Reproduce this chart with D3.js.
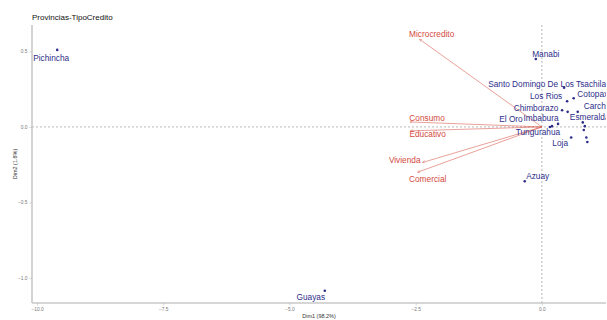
<!DOCTYPE html>
<html>
<head>
<meta charset="utf-8">
<script src="https://cdn.jsdelivr.net/npm/d3@7"></script>
<style>
  html, body { margin: 0; padding: 0; background: #fff; }
  svg { display: block; font-family: "Liberation Sans", Arial, Helvetica, sans-serif; }
</style>
</head>
<body>
<svg id="chart" width="607" height="320"></svg>
<script>
// Correspondence analysis biplot: provinces (rows) vs credit type (columns)
const rowNames = ["Pichincha", "Guayas", "Manabi", "Santo Domingo De Los Tsachila", "Los Rios",
  "Cotopaxi", "Chimborazo", "Carchi", "Esmeraldas", "El Oro", "Imbabura", "Tungurahua",
  "Loja", "Azuay", "Bolivar", "Canar", "Napo", "Pastaza", "Zamora Chinchipe"];
const rowDim1 = [-9.60, -4.30, -0.12, 0.44, 0.50, 0.63, 0.40, 0.71, 0.81, 0.20, 0.32, 0.16,
  0.58, -0.34, 0.51, 0.85, 0.83, 0.88, 0.90];
const rowDim2 = [0.51, -1.085, 0.45, 0.26, 0.17, 0.19, 0.11, 0.10, 0.03, 0.005, 0.02, 0.0,
  -0.07, -0.36, 0.10, 0.005, -0.02, -0.07, -0.10];
const rowLabelled = [true, true, true, true, true, true, true, true, true, true, true, true,
  true, true, false, false, false, false, false];

const colNames = ["Microcredito", "Consumo", "Educativo", "Vivienda", "Comercial"];
const colDim1 = [-2.42, -2.61, -2.60, -2.36, -2.46];
const colDim2 = [0.58, 0.033, -0.026, -0.235, -0.30];

const xTicks = [-10.0, -7.5, -5.0, -2.5, 0.0];
const yTicks = [-1.0, -0.5, 0.0, 0.5];

// Label nudges (px) from each mark, as placed by the repel layout
const rowNudge = {
  "Pichincha": [-6, 8], "Guayas": [-14, 6], "Manabi": [10, -5],
  "Santo Domingo De Los Tsachila": [-17, -4], "Los Rios": [-21, -5], "Cotopaxi": [20, -4],
  "Chimborazo": [-26, -2], "Carchi": [18, -6], "Esmeraldas": [9, -5], "El Oro": [-41, -7],
  "Imbabura": [-17, -6], "Tungurahua": [-12, 5], "Loja": [-11, 6], "Azuay": [13, -5]
};
const colNudge = {
  "Microcredito": [12, -5], "Consumo": [17, -4], "Educativo": [17, 3],
  "Vivienda": [-18, -2], "Comercial": [10, 7]
};

const rowColor = "#2e2e8a";
const colColor = "#d44a3e";
const labelSize = 8.3;

const svg = d3.select("#chart");
const panel = { left: 32, right: 606, top: 25, bottom: 303 };

const x = d3.scaleLinear().domain([-10.1, 1.27]).range([panel.left, panel.right]);
const y = d3.scaleLinear().domain([-1.166, 0.675]).range([panel.bottom, panel.top]);

svg.append("defs").append("clipPath").attr("id", "panelClip")
  .append("rect")
  .attr("x", panel.left).attr("y", panel.top)
  .attr("width", panel.right - panel.left).attr("height", panel.bottom - panel.top);

svg.select("defs").append("marker")
  .attr("id", "arrowHead").attr("viewBox", "0 0 10 10")
  .attr("refX", 9).attr("refY", 5)
  .attr("markerWidth", 4).attr("markerHeight", 4)
  .attr("orient", "auto-start-reverse")
  .append("path").attr("d", "M0,0 L10,5 L0,10").attr("fill", "none")
  .attr("stroke", colColor).attr("stroke-width", 1.2);

// Title
svg.append("text")
  .attr("x", panel.left).attr("y", 20)
  .attr("font-size", 8).attr("fill", "#111")
  .text("Provincias-TipoCredito");

const plot = svg.append("g").attr("clip-path", "url(#panelClip)");

// Reference lines through the origin
plot.append("line")
  .attr("x1", panel.left).attr("x2", panel.right)
  .attr("y1", y(0)).attr("y2", y(0))
  .attr("stroke", "#999").attr("stroke-width", 0.7).attr("stroke-dasharray", "2,2");
plot.append("line")
  .attr("x1", x(0)).attr("x2", x(0))
  .attr("y1", panel.top).attr("y2", panel.bottom)
  .attr("stroke", "#999").attr("stroke-width", 0.7).attr("stroke-dasharray", "2,2");

// Column arrows
const cols = colNames.map((n, i) => ({ name: n, d1: colDim1[i], d2: colDim2[i] }));
plot.selectAll("line.arrow").data(cols).enter().append("line")
  .attr("class", "arrow")
  .attr("x1", x(0)).attr("y1", y(0))
  .attr("x2", d => x(d.d1)).attr("y2", d => y(d.d2))
  .attr("stroke", colColor).attr("stroke-width", 0.7).attr("stroke-opacity", 0.75)
  .attr("marker-end", "url(#arrowHead)");

plot.selectAll("text.col").data(cols).enter().append("text")
  .attr("class", "col")
  .attr("x", d => x(d.d1) + colNudge[d.name][0])
  .attr("y", d => y(d.d2) + colNudge[d.name][1])
  .attr("text-anchor", "middle").attr("dominant-baseline", "central")
  .attr("font-size", labelSize).attr("fill", colColor)
  .text(d => d.name);

// Row points and labels
const rows = rowNames.map((n, i) => ({ name: n, d1: rowDim1[i], d2: rowDim2[i], lab: rowLabelled[i] }));
plot.selectAll("circle.row").data(rows).enter().append("circle")
  .attr("class", "row")
  .attr("cx", d => x(d.d1)).attr("cy", d => y(d.d2))
  .attr("r", 1.3).attr("fill", rowColor);

plot.selectAll("text.row").data(rows.filter(d => d.lab)).enter().append("text")
  .attr("class", "row")
  .attr("x", d => x(d.d1) + rowNudge[d.name][0])
  .attr("y", d => y(d.d2) + rowNudge[d.name][1])
  .attr("text-anchor", "middle").attr("dominant-baseline", "central")
  .attr("font-size", labelSize).attr("fill", rowColor)
  .text(d => d.name);

// Axes
const xAxis = svg.append("g")
  .attr("transform", `translate(0,${panel.bottom})`)
  .call(d3.axisBottom(x).tickValues(xTicks).tickFormat(d3.format(".1f")).tickSize(2.5).tickPadding(2));
const yAxis = svg.append("g")
  .attr("transform", `translate(${panel.left},0)`)
  .call(d3.axisLeft(y).tickValues(yTicks).tickFormat(d3.format(".1f")).tickSize(2.5).tickPadding(2));

[xAxis, yAxis].forEach(g => {
  g.select(".domain").attr("stroke", "#c8c8c8").attr("stroke-width", 1.6);
  g.selectAll(".tick line").attr("stroke", "#bbb").attr("stroke-width", 0.6);
  g.selectAll(".tick text").attr("fill", "#777").attr("font-size", 4.8)
    .attr("font-family", "'Liberation Sans', Arial, sans-serif");
});
xAxis.select(".domain").attr("d", `M${panel.left},0H${panel.right}`);
yAxis.select(".domain").attr("d", `M0,${panel.top}V${panel.bottom}`);

// Axis titles
svg.append("text")
  .attr("x", (panel.left + panel.right) / 2).attr("y", 318)
  .attr("text-anchor", "middle").attr("font-size", 5.5).attr("fill", "#333")
  .text("Dim1 (98.2%)");
svg.append("text")
  .attr("transform", `translate(15,${(panel.top + panel.bottom) / 2}) rotate(-90)`)
  .attr("text-anchor", "middle").attr("dominant-baseline", "central")
  .attr("font-size", 5.5).attr("fill", "#333")
  .text("Dim2 (1.8%)");
</script>
</body>
</html>
